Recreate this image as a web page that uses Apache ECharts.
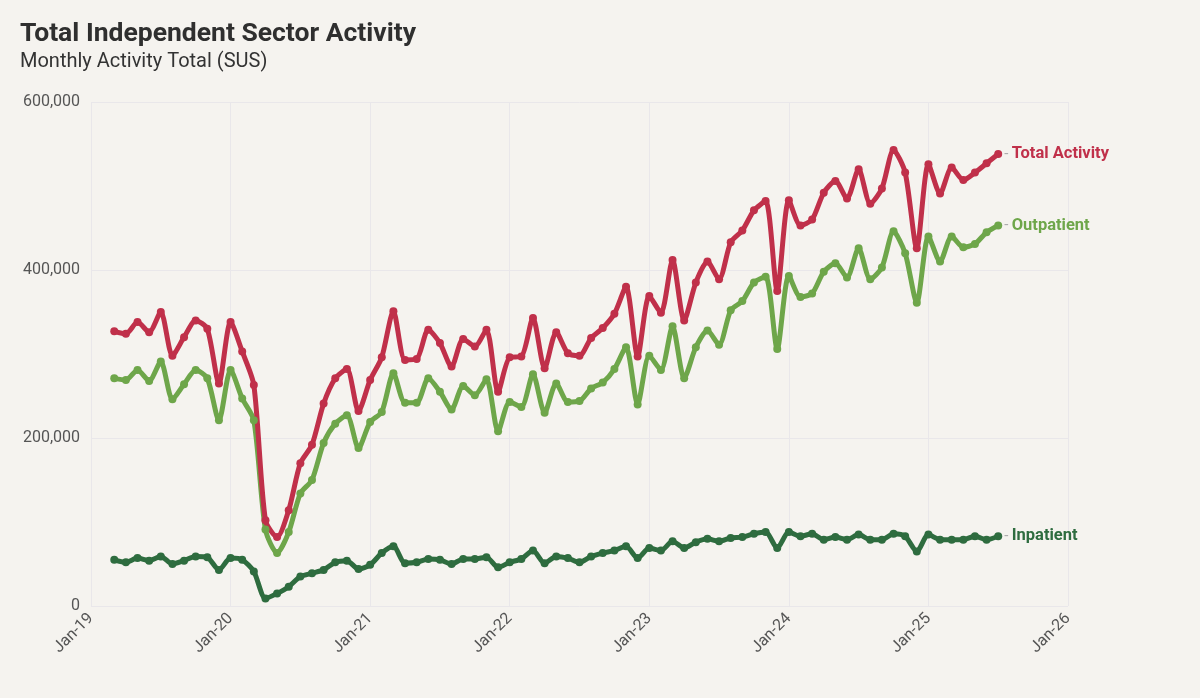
<!DOCTYPE html>
<html>
<head>
<meta charset="utf-8">
<script src="https://cdn.jsdelivr.net/npm/echarts@6/dist/echarts.min.js"></script>
<style>
html,body{margin:0;padding:0;background:#f5f3ef;}
#c{width:1200px;height:698px;}
</style>
</head>
<body>
<div id="c"></div>
<script>
// Months (first of month), March 2019 to July 2025
const startYear = 2019, startMonth = 3, monthCount = 77;
const months = [];
for (let i = 0; i < monthCount; i++) {
  const m0 = startMonth - 1 + i;
  months.push((startYear + Math.floor(m0 / 12)) + '-' + String(m0 % 12 + 1).padStart(2, '0'));
}
const xTickLabels = ['Jan-19','Jan-20','Jan-21','Jan-22','Jan-23','Jan-24','Jan-25','Jan-26'];

// values in thousands
const totalActivity = [
  327,324,338,326,350,298,320,340,330,265,
  338,303,263,102,82,114,170,192,241,271,282,232,
  269,296,351,293,294,329,313,285,318,309,329,255,
  296,297,343,283,326,301,298,319,331,348,380,297,
  369,349,412,340,385,410,389,433,447,471,482,375,
  483,453,460,492,506,485,520,479,497,543,516,426,
  526,491,522,507,516,527,538
];
const outpatient = [
  271,269,281,268,291,246,264,281,271,221,
  281,247,221,91,63,88,134,150,194,217,227,188,
  219,231,277,242,242,271,255,234,262,251,270,208,
  243,237,276,230,265,243,244,259,266,282,308,240,
  298,281,333,271,308,328,311,352,363,385,392,306,
  393,368,372,398,408,391,426,389,403,446,420,361,
  440,410,440,427,431,445,453
];
const inpatient = [
  55,52,57,54,59,50,54,59,58,43,
  57,55,41,9,15,23,35,39,43,52,54,44,
  49,63,71,51,52,56,55,50,56,56,58,46,
  52,56,66,51,59,57,52,59,63,66,71,57,
  69,66,77,69,76,80,77,81,82,86,88,69,
  88,83,86,79,82,79,85,79,79,86,83,65,
  85,79,79,79,83,79,83
];

function monthIndex(s) {
  const [y, m] = s.split('-').map(Number);
  return (y - 2019) * 12 + (m - 1);
}
function toData(vals) {
  return months.map((d, i) => [monthIndex(d), vals[i] * 1000]);
}

const font = 'Roboto, "Noto Sans", sans-serif';
const chart = echarts.init(document.getElementById('c'), null, {renderer: 'canvas'});

function mkSeries(name, vals, color, label) {
  return {
    name: name,
    type: 'line',
    data: toData(vals),
    symbol: 'circle',
    symbolSize: 8,
    smooth: 0.25,
    lineStyle: {width: 5, color: color},
    itemStyle: {color: color},
    endLabel: {
      show: true,
      distance: 6,
      formatter: '{d|-} {n|' + label + '}',
      rich: {
        d: {color: '#aaaaaa', fontSize: 15, fontFamily: font},
        n: {color: color, fontSize: 16.5, fontWeight: 'bold', fontFamily: font}
      }
    },
    emphasis: {disabled: true},
    z: 3
  };
}

chart.setOption({
  backgroundColor: '#f5f3ef',
  animation: false,
  title: [{
    text: 'Total Independent Sector Activity',
    left: 20, top: 21, padding: 0,
    textStyle: {fontFamily: font, fontSize: 26.5, fontWeight: 'bold', color: '#2f2f2f'}
  }, {
    text: 'Monthly Activity Total (SUS)',
    left: 20, top: 52, padding: 0,
    textStyle: {fontFamily: font, fontSize: 20, fontWeight: 'normal', color: '#333333'}
  }],
  grid: {left: 91, right: 132, top: 102, bottom: 92, containLabel: false},
  xAxis: {
    type: 'value',
    min: 0, max: 84, interval: 12,
    axisLine: {show: false},
    axisTick: {show: false},
    splitLine: {show: true, lineStyle: {color: '#e9e7ea', width: 1}},
    axisLabel: {
      rotate: 45,
      fontFamily: font, fontSize: 16, color: '#555555',
      margin: 10,
      formatter: v => xTickLabels[Math.round(v / 12)] || ''
    }
  },
  yAxis: {
    type: 'value',
    min: 0, max: 600000, interval: 200000,
    axisLine: {show: false},
    axisTick: {show: false},
    splitLine: {show: true, lineStyle: {color: '#e9e7ea', width: 1}},
    axisLabel: {
      fontFamily: font, fontSize: 16, color: '#555555', margin: 11,
      formatter: v => v.toLocaleString('en-US')
    }
  },
  series: [
    mkSeries('Inpatient', inpatient, '#2e6c3f', 'Inpatient'),
    mkSeries('Outpatient', outpatient, '#6ea64a', 'Outpatient'),
    mkSeries('Total Activity', totalActivity, '#c0304a', 'Total Activity')
  ]
});
</script>
</body>
</html>
